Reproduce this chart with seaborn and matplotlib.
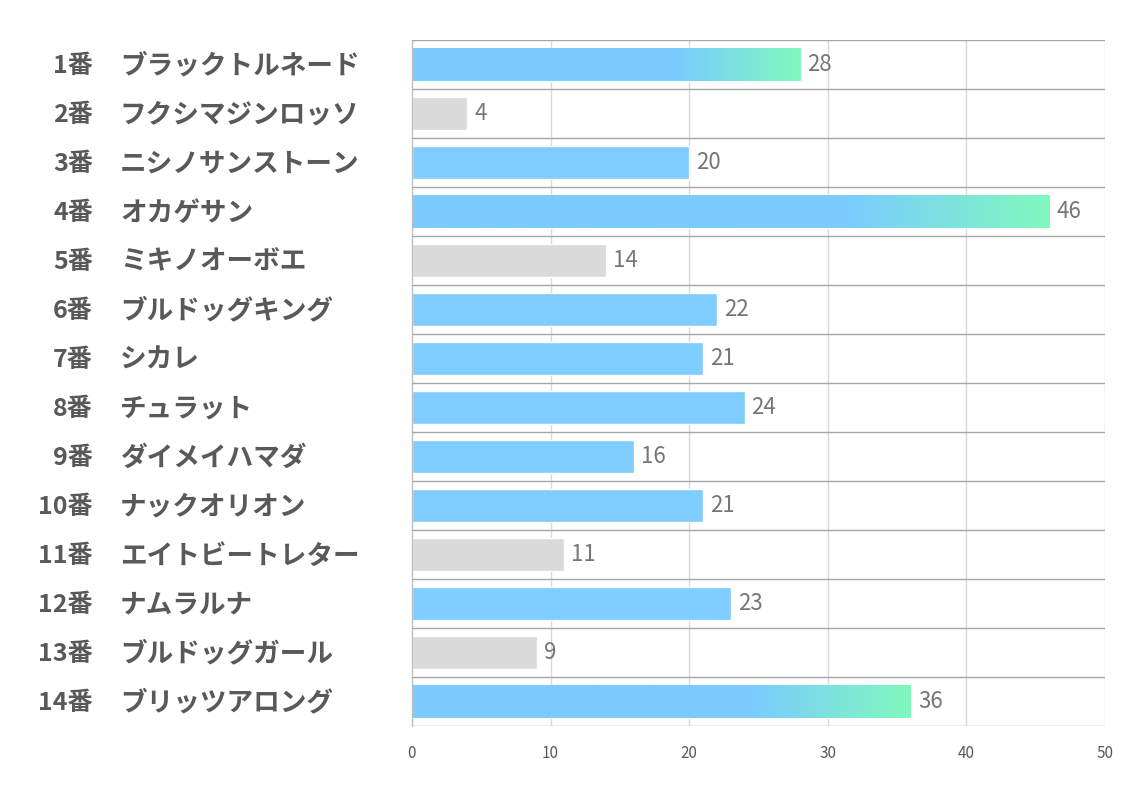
import numpy as np
import pandas as pd
import matplotlib
matplotlib.use("Agg")
import matplotlib.pyplot as plt
import seaborn as sns
from matplotlib.colors import LinearSegmentedColormap
from matplotlib.transforms import blended_transform_factory

numbers = ["1番", "2番", "3番", "4番", "5番", "6番", "7番", "8番", "9番", "10番",
           "11番", "12番", "13番", "14番"]
names = ["ブラックトルネード", "フクシマジンロッソ", "ニシノサンストーン", "オカゲサン",
         "ミキノオーボエ", "ブルドッグキング", "シカレ", "チュラット", "ダイメイハマダ",
         "ナックオリオン", "エイトビートレター", "ナムラルナ", "ブルドッグガール", "ブリッツアロング"]
values = [28, 4, 20, 46, 14, 22, 21, 24, 16, 21, 11, 23, 9, 36]
status = ["top", "grey", "normal", "top", "grey", "normal", "normal", "normal", "normal",
          "normal", "grey", "normal", "grey", "top"]
x_ticks = [0, 10, 20, 30, 40, 50]

BLUE = "#7BCBFF"
GREEN = "#80F9BE"
GREY = "#D9D9D9"

sns.set_style("white")
plt.rcParams['font.family'] = ['Noto Sans CJK JP', 'DejaVu Sans']

df = pd.DataFrame({"label": [f"{n} {m}" for n, m in zip(numbers, names)],
                   "value": values, "status": status})
palette = {"top": BLUE, "normal": BLUE, "grey": GREY}

fig = plt.figure(figsize=(11.34, 7.93), dpi=100)
ax = fig.add_axes([412/1134, 1-726/793, (1105-412)/1134, (726-40)/793])

sns.barplot(data=df, x="value", y="label", hue="status", palette=palette,
            dodge=False, legend=False, width=0.67, ax=ax, zorder=2, saturation=1,
            order=df["label"], hue_order=["top", "normal", "grey"])

ax.set_xlim(0, 50)
ax.set_ylim(len(values) - 0.5, -0.5)
ax.set_xticks(x_ticks)
ax.set_xticklabels([str(t) for t in x_ticks], fontsize=11, color="#595959")
ax.tick_params(axis="x", length=0, pad=14)
ax.set_yticks([])
ax.set_xlabel("")
ax.set_ylabel("")

for t in x_ticks[1:]:
    ax.axvline(t, color="#D9D9D9", lw=1, zorder=1)
for b in np.arange(-0.5, len(values) + 0.5, 1):
    ax.axhline(b, color="#A6A6A6", lw=1, zorder=3)
for s in ["top", "right", "bottom"]:
    ax.spines[s].set_visible(False)
ax.spines["left"].set_color("#BFBFBF")
ax.spines["left"].set_linewidth(1)

# gradient bars
cmap = LinearSegmentedColormap.from_list("g", [BLUE, GREEN])
bar_by_y = {}
for p in ax.patches:
    if p.get_width() > 0:
        bar_by_y[round(p.get_y() + p.get_height() / 2)] = p
for i, (v, st) in enumerate(zip(values, status)):
    p = bar_by_y.get(i)
    if p is None:
        continue
    p.set_alpha(0.97)
    if st == "top":
        grad = np.linspace(0, 1, 256).reshape(1, -1)
        g = np.where(grad < 0.68, 0.0, (grad - 0.68) / 0.32)
        im = ax.imshow(g, cmap=cmap, vmin=0, vmax=1, aspect="auto",
                       extent=[p.get_x(), p.get_x() + p.get_width(),
                               p.get_y() + p.get_height(), p.get_y()],
                       zorder=2.5, interpolation="bilinear")
        im.set_clip_path(p)
ax.set_xlim(0, 50)
ax.set_ylim(len(values) - 0.5, -0.5)

for i, v in enumerate(values):
    ax.text(v + 0.5, i, str(v), va="center", ha="left", fontsize=16,
            color="#767676", zorder=4)

# left labels in two columns
tr = blended_transform_factory(fig.transFigure, ax.transData)
for i, (n, m) in enumerate(zip(numbers, names)):
    ax.text(93/1134, i + 0.03, n, transform=tr, ha="right", va="center",
            fontsize=18, fontweight="bold", color="#595959")
    ax.text(120/1134, i + 0.03, m, transform=tr, ha="left", va="center",
            fontsize=19.2, fontweight="bold", color="#595959")

fig.savefig("out.png", dpi=100)
